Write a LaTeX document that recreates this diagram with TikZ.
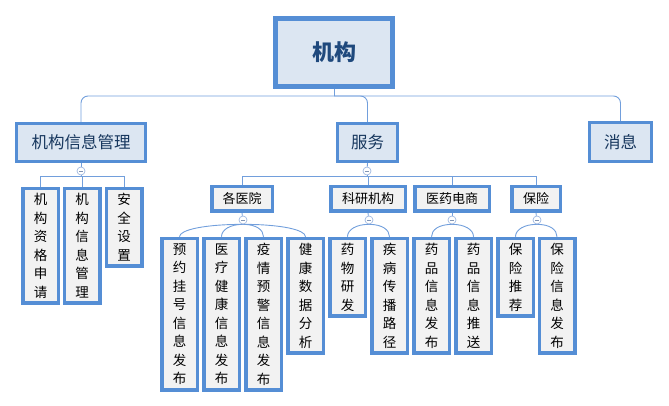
\documentclass[tikz,border=0pt]{standalone}
\usepackage{fontspec}
\newfontfamily\cjk{Noto Sans CJK SC}
\usetikzlibrary{backgrounds}
\definecolor{bord}{RGB}{85,142,213}
\definecolor{lnk}{RGB}{114,159,220}
\definecolor{togc}{RGB}{160,185,225}
\definecolor{topfill}{RGB}{220,230,242}
\definecolor{leaffill}{RGB}{242,242,242}
\definecolor{toptext}{RGB}{23,55,94}
\definecolor{roottext}{RGB}{31,73,125}
\begin{document}
\begin{tikzpicture}[x=1pt,y=-1pt,
 rootbox/.style={draw=bord, line width=5pt, fill=topfill, minimum width=117pt, minimum height=68pt, font=\cjk\fontsize{22}{26}\selectfont\bfseries, text=roottext, inner sep=0pt},
 topbox/.style={draw=bord, line width=3pt, fill=topfill, font=\cjk\fontsize{16.5}{20}\selectfont, text=toptext, minimum height=38pt, inner sep=0pt},
 midbox/.style={draw=bord, line width=3.5pt, fill=leaffill, font=\cjk\fontsize{13}{16}\selectfont, minimum height=24.5pt, inner sep=0pt},
 leafbox/.style={draw=bord, line width=3.5pt, fill=leaffill, font=\cjk\fontsize{13.5}{18.5}\selectfont, align=center, minimum width=35.5pt, inner sep=0pt, anchor=north},
 tog/.style={circle, draw=togc, fill=white, minimum size=8pt, inner sep=0pt, line width=0.7pt,
   path picture={\draw[togc!80!black, line width=0.7pt] ([xshift=-2pt]path picture bounding box.center) -- ([xshift=2pt]path picture bounding box.center);}},
 link/.style={draw=lnk, line width=0.9pt},
]
\useasboundingbox (0,0) rectangle (669,406);

% root and top level
\node[rootbox] (root) at (334,52.5) {机构};
\node[topbox, minimum width=129pt] (t1) at (81,142.5) {机构信息管理};
\node[topbox, minimum width=60pt] (t2) at (367.5,142.5) {服务};
\node[topbox, minimum width=62pt, minimum height=39pt] (t3) at (620.5,142) {消息};
\coordinate (j0) at (334,96);

% toggles
\node[tog] (g1) at (81,171) {};
\node[tog] (g2) at (367,171) {};
\coordinate (h1) at (81,176);
\coordinate (h2) at (367,176);

% children of 机构信息管理
\node[leafbox, minimum height=114.5pt] (a1) at (40.5,186.75) {机\\构\\资\\格\\申\\请};
\node[leafbox, minimum height=114.5pt] (a2) at (82,186.75) {机\\构\\信\\息\\管\\理};
\node[leafbox, minimum height=77.5pt] (a3) at (124,186.75) {安\\全\\设\\置};

% children of 服务
\node[midbox, minimum width=60.5pt] (m1) at (242,199) {各医院};
\node[midbox, minimum width=74.5pt] (m2) at (368,199) {科研机构};
\node[midbox, minimum width=74.5pt] (m3) at (452,199) {医药电商};
\node[midbox, minimum width=48.5pt] (m4) at (536,199) {保险};

\node[tog] (g3) at (243,220) {};
\node[tog] (g4) at (369,220) {};
\node[tog] (g5) at (452,220) {};
\node[tog] (g6) at (537,220) {};

% leaves
\node[leafbox, minimum height=151.5pt] (b1) at (179.5,236.75) {预\\约\\挂\\号\\信\\息\\发\\布};
\node[leafbox, minimum height=151.5pt] (b2) at (221.5,236.75) {医\\疗\\健\\康\\信\\息\\发\\布};
\node[leafbox, minimum height=151.5pt] (b3) at (263.5,236.75) {疫\\情\\预\\警\\信\\息\\发\\布};
\node[leafbox, minimum height=114.5pt] (b4) at (305.5,236.75) {健\\康\\数\\据\\分\\析};
\node[leafbox, minimum height=77.5pt] (c1) at (347.5,236.75) {药\\物\\研\\发};
\node[leafbox, minimum height=114.5pt] (c2) at (389.5,236.75) {疾\\病\\传\\播\\路\\径};
\node[leafbox, minimum height=114.5pt] (d1) at (431.5,236.75) {药\\品\\信\\息\\发\\布};
\node[leafbox, minimum height=114.5pt] (d2) at (473.5,236.75) {药\\品\\信\\息\\推\\送};
\node[leafbox, minimum height=77.5pt] (e1) at (515.5,236.75) {保\\险\\推\\荐};
\node[leafbox, minimum height=114.5pt] (e2) at (557,236.75) {保\\险\\信\\息\\发\\布};

\begin{pgfonlayer}{background}
 \draw[link] (root.south) -- (j0);
 \draw[link, rounded corners=7pt] (t1.north) |- (j0);
 \draw[link, rounded corners=7pt] (t3.north) |- (j0);
 \draw[link, rounded corners=7pt] (t2.north) |- (j0);

 \draw[link] (t1.south) -- (g1);
 \draw[link] (g1) -- (h1);
 \draw[link] (a1.north) |- (h1);
 \draw[link] (a2.north) |- (h1);
 \draw[link] (a3.north) |- (h1);

 \draw[link] (t2.south) -- (g2);
 \draw[link] (g2) -- (h2);
 \draw[link] (m1.north) |- (h2);
 \draw[link] (m2.north) |- (h2);
 \draw[link] (m3.north) |- (h2);
 \draw[link] (m4.north) |- (h2);

 \draw[link] (m1.south) -- (g3);
 \draw[link] (m2.south) -- (g4);
 \draw[link] (m3.south) -- (g5);
 \draw[link] (m4.south) -- (g6);

 \draw[link] (g3.south) .. controls +(-38,0) and +(0,-7) .. (b1.north);
 \draw[link] (g3.south) .. controls +(-13,0) and +(0,-7) .. (b2.north);
 \draw[link] (g3.south) .. controls +(13,0) and +(0,-7) .. (b3.north);
 \draw[link] (g3.south) .. controls +(38,0) and +(0,-7) .. (b4.north);
 \draw[link] (g4.south) .. controls +(-13,0) and +(0,-7) .. (c1.north);
 \draw[link] (g4.south) .. controls +(13,0) and +(0,-7) .. (c2.north);
 \draw[link] (g5.south) .. controls +(-13,0) and +(0,-7) .. (d1.north);
 \draw[link] (g5.south) .. controls +(13,0) and +(0,-7) .. (d2.north);
 \draw[link] (g6.south) .. controls +(-13,0) and +(0,-7) .. (e1.north);
 \draw[link] (g6.south) .. controls +(13,0) and +(0,-7) .. (e2.north);
\end{pgfonlayer}
\end{tikzpicture}
\end{document}
